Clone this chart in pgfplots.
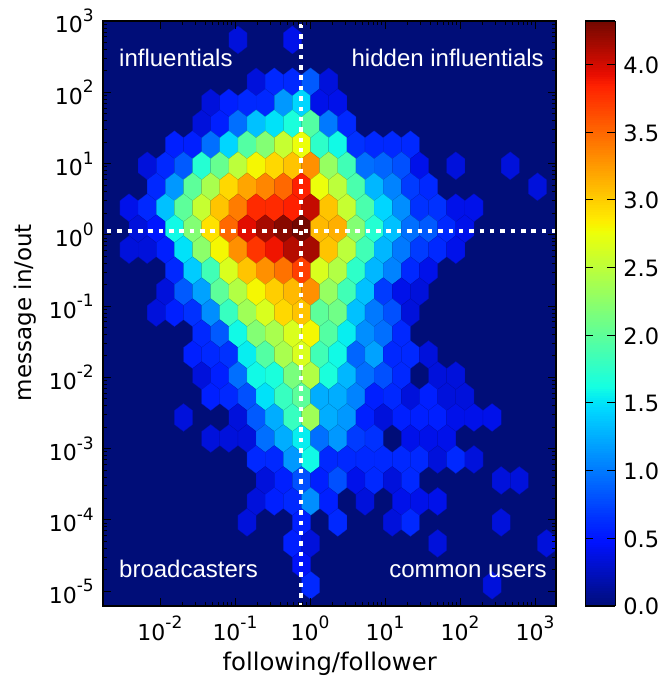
\documentclass[border=0pt]{standalone}
\usepackage{fontspec}
\setmainfont{DejaVu Sans}
\newfontfamily\ann{Liberation Sans}
\usepackage{pgfplots}
\usepackage{pgfplotstable}
\pgfplotsset{compat=1.18}
\newcommand\pow[1]{10\raisebox{11.5pt}{\fontsize{17}{17}\selectfont #1}}
\pgfdeclareplotmark{hexm}{%
  \pgfpathmoveto{\pgfqpoint{0pt}{13.97pt}}%
  \pgfpathlineto{\pgfqpoint{9.07pt}{6.99pt}}%
  \pgfpathlineto{\pgfqpoint{9.07pt}{-6.99pt}}%
  \pgfpathlineto{\pgfqpoint{0pt}{-13.97pt}}%
  \pgfpathlineto{\pgfqpoint{-9.07pt}{-6.99pt}}%
  \pgfpathlineto{\pgfqpoint{-9.07pt}{6.99pt}}%
  \pgfpathclose\pgfusepathqfillstroke}
\pgfplotstableread[row sep=crcr]{
h r v\\
-1 -1 .5\\
0 0 .35\\ 6 0 .4\\
2 2 .35\\ 4 2 .6\\ 6 2 .6\\ 8 2 .85\\ 10 2 .35\\
-3 3 .35\\ -1 3 .55\\ 1 3 .6\\ 3 3 .6\\ 5 3 1.15\\ 7 3 1.45\\ 9 3 .4\\ 11 3 .4\\
-4 4 .35\\ -2 4 .55\\ 0 4 .95\\ 2 4 1.35\\ 4 4 1.5\\ 6 4 1.65\\ 8 4 1.95\\ 10 4 1.0\\ 12 4 .6\\
-7 5 .55\\ -5 5 .55\\ -3 5 .95\\ -1 5 1.45\\ 1 5 1.95\\ 3 5 2.2\\ 5 5 2.55\\ 7 5 2.75\\ 9 5 1.75\\ 11 5 1.6\\ 13 5 .65\\ 15 5 .6\\ 17 5 .6\\ 19 5 .6\\
-10 6 .35\\ -8 6 .6\\ -6 6 .85\\ -4 6 1.7\\ -2 6 2.05\\ 0 6 2.5\\ 2 6 2.8\\ 4 6 2.95\\ 6 6 3.05\\ 8 6 3.3\\ 10 6 2.3\\ 12 6 1.85\\ 14 6 .95\\ 16 6 .9\\ 18 6 .8\\ 20 6 .4\\ 24 6 .35\\ 30 6 .35\\
-9 7 .6\\ -7 7 1.15\\ -5 7 2.0\\ -3 7 2.4\\ -1 7 2.95\\ 1 7 3.2\\ 3 7 3.35\\ 5 7 3.5\\ 7 7 3.85\\ 9 7 2.75\\ 11 7 2.5\\ 13 7 1.9\\ 15 7 1.3\\ 17 7 1.05\\ 19 7 .7\\ 21 7 .6\\ 33 7 .35\\
-12 8 .4\\ -10 8 .6\\ -8 8 1.35\\ -6 8 2.0\\ -4 8 2.55\\ -2 8 3.05\\ 0 8 3.4\\ 2 8 3.8\\ 4 8 3.8\\ 6 8 3.85\\ 8 8 4.05\\ 10 8 3.05\\ 12 8 2.55\\ 14 8 1.9\\ 16 8 1.45\\ 18 8 1.1\\ 20 8 .65\\ 22 8 .65\\ 24 8 .4\\ 26 8 .4\\
-11 9 .35\\ -9 9 .5\\ -7 9 1.6\\ -5 9 2.2\\ -3 9 2.9\\ -1 9 3.5\\ 1 9 3.95\\ 3 9 4.15\\ 5 9 4.25\\ 7 9 4.32\\ 9 9 3.1\\ 11 9 3.15\\ 13 9 2.2\\ 15 9 1.7\\ 17 9 1.35\\ 19 9 .95\\ 21 9 .85\\ 23 9 .6\\ 25 9 .4\\
-12 10 .35\\ -10 10 .35\\ -8 10 .55\\ -6 10 1.5\\ -4 10 2.25\\ -2 10 2.8\\ 0 10 3.3\\ 2 10 3.75\\ 4 10 3.9\\ 6 10 4.1\\ 8 10 4.15\\ 10 10 3.05\\ 12 10 2.5\\ 14 10 1.85\\ 16 10 1.3\\ 18 10 1.0\\ 20 10 .7\\ 22 10 .6\\ 24 10 .4\\
-7 11 .6\\ -5 11 1.4\\ -3 11 1.85\\ -1 11 2.65\\ 1 11 3.05\\ 3 11 3.3\\ 5 11 3.45\\ 7 11 3.7\\ 9 11 2.65\\ 11 11 2.45\\ 13 11 1.75\\ 15 11 1.3\\ 17 11 1.05\\ 19 11 .6\\ 21 11 .4\\
-8 12 .35\\ -6 12 .85\\ -4 12 1.2\\ -2 12 2.0\\ 0 12 2.45\\ 2 12 2.8\\ 4 12 3.0\\ 6 12 3.1\\ 8 12 3.3\\ 10 12 2.3\\ 12 12 1.85\\ 14 12 1.35\\ 16 12 .7\\ 18 12 .4\\ 20 12 .35\\
-9 13 .35\\ -7 13 .55\\ -5 13 .65\\ -3 13 1.1\\ -1 13 1.8\\ 1 13 2.35\\ 3 13 2.65\\ 5 13 2.95\\ 7 13 3.05\\ 9 13 2.0\\ 11 13 2.1\\ 13 13 1.35\\ 15 13 1.0\\ 17 13 .8\\ 19 13 .35\\
-4 14 .6\\ -2 14 .85\\ 0 14 1.6\\ 2 14 2.2\\ 4 14 2.4\\ 6 14 2.65\\ 8 14 2.8\\ 10 14 1.95\\ 12 14 1.55\\ 14 14 1.1\\ 16 14 .95\\ 18 14 .6\\
-15 15 .5\\ -5 15 .55\\ -3 15 .6\\ -1 15 .65\\ 1 15 1.55\\ 3 15 1.95\\ 5 15 2.4\\ 7 15 2.65\\ 9 15 1.85\\ 11 15 1.6\\ 13 15 .9\\ 15 15 1.2\\ 17 15 .6\\ 19 15 .6\\ 21 15 .35\\
-4 16 .35\\ -2 16 .55\\ 0 16 .95\\ 2 16 1.6\\ 4 16 1.65\\ 6 16 2.15\\ 8 16 2.45\\ 10 16 1.65\\ 12 16 1.3\\ 14 16 .95\\ 16 16 .8\\ 18 16 .6\\ 22 16 .35\\ 24 16 .35\\
-3 17 .55\\ -1 17 .6\\ 1 17 .8\\ 3 17 1.5\\ 5 17 1.8\\ 7 17 2.0\\ 9 17 1.25\\ 11 17 1.25\\ 13 17 1.05\\ 15 17 .55\\ 17 17 .6\\ 19 17 .35\\ 21 17 .55\\ 23 17 .35\\ 25 17 .35\\
-6 18 .35\\ 0 18 .35\\ 2 18 .85\\ 4 18 1.25\\ 6 18 1.8\\ 8 18 2.35\\ 10 18 1.25\\ 12 18 1.15\\ 14 18 .55\\ 16 18 .35\\ 18 18 .55\\ 20 18 .55\\ 22 18 .55\\ 24 18 .4\\ 26 18 .4\\ 28 18 .4\\
-3 19 .35\\ -1 19 .35\\ 1 19 .35\\ 3 19 .95\\ 5 19 1.25\\ 7 19 1.55\\ 9 19 .95\\ 11 19 1.15\\ 13 19 .7\\ 15 19 .65\\ 19 19 .4\\ 21 19 .4\\ 23 19 .4\\
2 20 .6\\ 4 20 .6\\ 6 20 1.15\\ 8 20 1.6\\ 10 20 .6\\ 12 20 .6\\ 14 20 .6\\ 16 20 .6\\ 18 20 .6\\ 20 20 .6\\ 22 20 .35\\ 24 20 .6\\ 26 20 .35\\
3 21 .35\\ 5 21 .55\\ 7 21 .8\\ 9 21 .55\\ 11 21 .8\\ 13 21 .4\\ 15 21 .6\\ 17 21 .35\\ 19 21 .6\\ 29 21 .35\\ 31 21 .35\\
2 22 .35\\ 4 22 .55\\ 6 22 .6\\ 8 22 1.1\\ 10 22 .55\\ 14 22 .35\\ 18 22 .4\\ 20 22 .4\\ 22 22 .4\\
1 23 .35\\ 7 23 .55\\ 11 23 .6\\ 17 23 .35\\ 19 23 .6\\ 29 23 .35\\
6 24 .55\\ 8 24 .35\\ 22 24 .35\\ 34 24 .35\\
7 25 .45\\
8 26 .6\\ 28 26 .35\\
29 27 .35\\
}\hexdata
\begin{document}
\begin{tikzpicture}
\pgfplotsset{
  /pgfplots/colormap={mpljet}{
    rgb(0)=(0,0.05,0.47) rgb(110)=(0,.07,1) rgb(150)=(0,.19,1)
    rgb(340)=(0,.855,1) rgb(350)=(0,.9,.968) rgb(375)=(.08,1,.887)
    rgb(640)=(.935,1,.032) rgb(650)=(.968,.963,0) rgb(660)=(1,.926,0)
    rgb(890)=(1,.13,0) rgb(910)=(.909,.05,0) rgb(1000)=(.45,.03,0)}
}
\begin{axis}[
  at={(0pt,0pt)}, anchor=south west,
  scale only axis, width=453pt, height=585pt,
  xmode=log, ymode=log,
  xmin=1.74e-3, xmax=1905, ymin=6.17e-6, ymax=1000,
  clip mode=individual,
  xtick={1e-2,1e-1,1,10,100,1000},
  xticklabels={\pow{-2},\pow{-1},\pow{0},\pow{1},\pow{2},\pow{3}},
  ytick={1e-5,1e-4,1e-3,1e-2,1e-1,1,10,100,1000},
  yticklabels={\pow{-5},\pow{-4},\pow{-3},\pow{-2},\pow{-1},\pow{0},\pow{1},\pow{2},\pow{3}},
  tick label style={font=\fontsize{22}{26}\selectfont, inner sep=0pt},
  xticklabel style={anchor=base, yshift=-34pt},
  yticklabel style={anchor=base east, xshift=-9pt, yshift=-12pt},
  major tick length=8pt, minor tick length=4pt,
  every tick/.style={black,line width=.8pt},
  axis line style={black,line width=1.4pt},
  axis on top,
  axis background/.style={fill={rgb,1:red,0;green,0.05;blue,0.47}},
  xlabel={following/follower}, ylabel={message in/out},
  xlabel style={font=\fontsize{24.3}{28}\selectfont, at={(axis description cs:.5004,-.1094)}, anchor=base, inner sep=0pt},
  ylabel style={font=\fontsize{23}{28}\selectfont, at={(axis description cs:-.1589,.5017)}, anchor=base, inner sep=0pt},
  colormap name=mpljet,
  point meta min=0, point meta max=4.32,
  colorbar sampled,
  colorbar shift/.style={xshift=28.5pt},
  colorbar style={
    width=30pt,
    samples=256,
    ytick={0,0.5,1,1.5,2,2.5,3,3.5,4},
    yticklabel style={font=\fontsize{22.5}{26}\selectfont, anchor=base west, inner sep=0pt, xshift=8pt, yshift=-9pt,
      /pgf/number format/.cd,fixed,fixed zerofill,precision=1,assume math mode=true},
    major tick length=8pt,
    every tick/.style={black,line width=.8pt},
    axis line style={black,line width=1.4pt},
  },
]
\addplot[scatter, only marks, scatter src=explicit, mark=hexm, mark options={line width=.2pt}]
  table[x expr={10^(-0.96+0.121*\thisrow{h})}, y expr={10^(2.735-0.2944*\thisrow{r})}, meta=v] {\hexdata};
\addplot[white, line width=4.5pt, dash pattern=on 4.5pt off 5.85pt, dash phase=7.6pt]
  coordinates {(0.759,1000)(0.759,6.17e-6)};
\addplot[white, line width=4.5pt, dash pattern=on 4.5pt off 5.85pt, dash phase=6.35pt]
  coordinates {(1.74e-3,1.127)(1905,1.127)};
\node[anchor=base west,inner sep=0pt,text=white,font=\ann\fontsize{24}{28}\selectfont] at (rel axis cs:.0353,.9214) {influentials};
\node[anchor=base east,inner sep=0pt,text=white,font=\ann\fontsize{24}{28}\selectfont] at (rel axis cs:.9735,.9214) {hidden influentials};
\node[anchor=base west,inner sep=0pt,text=white,font=\ann\fontsize{24}{28}\selectfont] at (rel axis cs:.0353,.0479) {broadcasters};
\node[anchor=base east,inner sep=0pt,text=white,font=\ann\fontsize{24}{28}\selectfont] at (rel axis cs:.980,.0479) {common users};
\end{axis}
\path[use as bounding box] (-103pt,-71pt) rectangle (559pt,606pt);
\end{tikzpicture}
\end{document}
